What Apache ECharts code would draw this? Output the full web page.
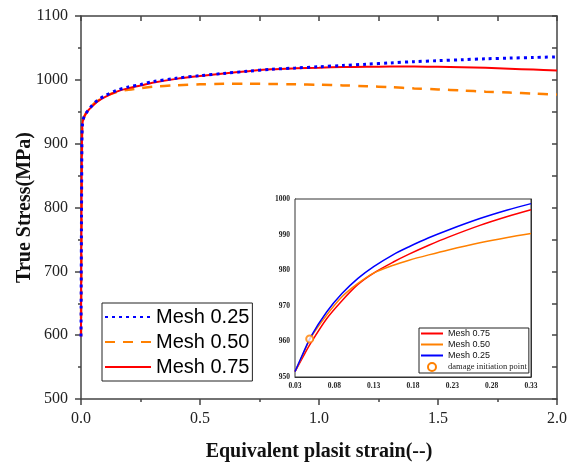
<!DOCTYPE html>
<html>
<head>
<meta charset="utf-8">
<script src="https://cdn.jsdelivr.net/npm/echarts@6/dist/echarts.min.js"></script>
<style>html,body{margin:0;padding:0;background:#fff;}#c{width:568px;height:466px;}</style>
</head>
<body>
<div id="c"></div>
<script>
// ---- main chart data ----
const strain = [0, 0.002, 0.004, 0.006, 0.01, 0.02, 0.03, 0.05, 0.07, 0.1, 0.15, 0.2, 0.25, 0.3, 0.4, 0.5, 0.6, 0.7, 0.8, 0.9, 1.0, 1.1, 1.2, 1.3, 1.4, 1.5, 1.6, 1.7, 1.8, 1.9, 2.0];
const mesh025 = [598, 780, 905, 930, 939, 947, 952, 961.3, 968, 975, 983.5, 989, 992.5, 997, 1002.5, 1006.5, 1010, 1013.5, 1016.5, 1018.5, 1020.5, 1022.5, 1024.5, 1026.5, 1028.5, 1030, 1031.5, 1033, 1034, 1035, 1036];
const mesh050 = [598, 780, 905, 930, 939, 947, 952, 961, 967, 974, 981, 984.5, 987, 989, 991.5, 993, 993.7, 993.8, 993.5, 993, 992.3, 991.3, 990, 988.5, 986.5, 985, 983.3, 981.5, 980, 978.5, 977];
const mesh075 = [598, 780, 905, 930, 939, 947, 952, 959.6, 966.3, 973, 981.5, 987, 991, 995.5, 1001.5, 1006, 1010, 1013.5, 1016.5, 1018, 1019, 1020, 1020.5, 1020.8, 1021, 1020.5, 1019.8, 1018.8, 1017.5, 1016, 1014.5];
const xTicks = [0, 0.5, 1.0, 1.5, 2.0];
const yTicks = [500, 600, 700, 800, 900, 1000, 1100];

// ---- inset data ----
const insetStrain = [0.03, 0.04, 0.05, 0.07, 0.09, 0.11, 0.13, 0.155, 0.175, 0.20, 0.225, 0.265, 0.30, 0.33];
const inset025 = [951.5, 956.5, 961.3, 968.2, 973.5, 977.7, 981.0, 984.4, 986.6, 989.1, 991.3, 994.5, 996.9, 998.7];
const inset075 = [951.5, 955.6, 959.5, 966.3, 971.5, 976.0, 979.2, 982.3, 984.5, 987.0, 989.3, 992.6, 995.1, 997.0];
const inset050 = [951.5, 956.3, 961.0, 967.3, 972.6, 976.3, 979.2, 981.4, 982.8, 984.3, 985.7, 987.7, 989.2, 990.3];
const damagePoint = [0.0487, 960.7];
const insetXTicks = [0.03, 0.08, 0.13, 0.18, 0.23, 0.28, 0.33];
const insetXMinor = [0.03, 0.055, 0.08, 0.105, 0.13, 0.155, 0.18, 0.205, 0.23, 0.255, 0.28, 0.305, 0.33];

const RED = '#ff0000', ORANGE = '#ff8000', BLUE = '#0000ff';
const zip = (xs, ys) => xs.map((x, i) => [x, ys[i]]);
const SERIF = '"Liberation Serif", "Times New Roman", serif';
const SANS = '"Liberation Sans", Arial, sans-serif';
const AX = { lineStyle: { color: '#444', width: 1.5 } };

const chart = echarts.init(document.getElementById('c'), null, { renderer: 'canvas' });
chart.setOption({
  animation: false,
  backgroundColor: '#fff',
  grid: [
    { left: 81, top: 16, width: 476, height: 383, containLabel: false, outerBoundsMode: 'none' },
    { left: 295, top: 199, width: 236, height: 178, containLabel: false, outerBoundsMode: 'none',
      show: true, backgroundColor: '#fff', borderColor: '#333', borderWidth: 1, z: 5 }
  ],
  xAxis: [
    { type: 'value', gridIndex: 0, position: 'bottom', min: 0, max: 2, interval: 0.5,
      axisLine: { onZero: false, ...AX }, splitLine: { show: false },
      axisTick: { inside: false, length: 6, lineStyle: { color: '#444', width: 1.5 } },
      minorTick: { show: true, splitNumber: 2, length: 3, lineStyle: { color: '#444', width: 1.5 } },
      axisLabel: { fontFamily: SERIF, fontSize: 16, color: '#222', margin: 12, formatter: v => v.toFixed(1) },
      name: 'Equivalent plasit strain(--)', nameLocation: 'middle', nameGap: 43, nameMoveOverlap: false,
      nameTextStyle: { fontFamily: SERIF, fontSize: 20, fontWeight: 'bold', color: '#111' } },
    { type: 'value', gridIndex: 0, position: 'top', min: 0, max: 2, interval: 0.25,
      axisLine: { onZero: false, ...AX }, splitLine: { show: false },
      axisTick: { inside: true, length: 5, lineStyle: { color: '#444', width: 1.5 } },
      axisLabel: { show: false } },
    { type: 'value', gridIndex: 1, position: 'bottom', min: 0.03, max: 0.33,
      axisLine: { onZero: false, lineStyle: { color: '#333', width: 1 } }, splitLine: { show: false },
      axisTick: { inside: true, length: 3, customValues: insetXMinor, lineStyle: { color: '#333' } },
      axisLabel: { customValues: insetXTicks, fontFamily: SERIF, fontSize: 7.5, fontWeight: 'bold', color: '#222', margin: 5,
                   formatter: v => v.toFixed(2) } }
  ],
  yAxis: [
    { type: 'value', gridIndex: 0, position: 'left', min: 500, max: 1100, interval: 100,
      axisLine: { show: true, onZero: false, ...AX }, splitLine: { show: false },
      axisTick: { show: true, inside: false, length: 6, lineStyle: { color: '#444', width: 1.5 } },
      minorTick: { show: true, splitNumber: 2, length: 3, lineStyle: { color: '#444', width: 1.5 } },
      axisLabel: { fontFamily: SERIF, fontSize: 16, color: '#222', margin: 13, formatter: v => String(v) },
      name: 'True Stress(MPa)', nameLocation: 'middle', nameGap: 46, nameMoveOverlap: false,
      nameTextStyle: { fontFamily: SERIF, fontSize: 20, fontWeight: 'bold', color: '#111' } },
    { type: 'value', gridIndex: 0, position: 'right', min: 500, max: 1100, interval: 50,
      axisLine: { show: true, onZero: false, ...AX }, splitLine: { show: false },
      axisTick: { show: true, inside: true, length: 5, lineStyle: { color: '#444', width: 1.5 } },
      axisLabel: { show: false } },
    { type: 'value', gridIndex: 1, position: 'left', min: 950, max: 1000, interval: 10,
      axisLine: { show: true, onZero: false, lineStyle: { color: '#333', width: 1 } }, splitLine: { show: false },
      axisTick: { show: true, inside: true, length: 3, lineStyle: { color: '#333' } },
      minorTick: { show: true, splitNumber: 2, length: 3, lineStyle: { color: '#333' } },
      axisLabel: { fontFamily: SERIF, fontSize: 7.5, fontWeight: 'bold', color: '#222', margin: 5, formatter: v => String(v) } },
    { type: 'value', gridIndex: 1, position: 'right', min: 950, max: 1000, interval: 5,
      axisLine: { show: true, onZero: false, lineStyle: { color: '#333', width: 1 } }, splitLine: { show: false },
      axisTick: { show: true, inside: true, length: 3, lineStyle: { color: '#333' } },
      axisLabel: { show: false } }
  ],
  legend: [
    { orient: 'vertical', left: 102, top: 303, padding: [4, 3, 4, 2], itemGap: 5,
      itemWidth: 46, itemHeight: 14, backgroundColor: '#fff', borderColor: '#222', borderWidth: 1, borderRadius: 0,
      itemStyle: { opacity: 0 },
      textStyle: { fontFamily: SANS, fontSize: 20, lineHeight: 20, color: '#000' },
      data: ['Mesh 0.25', 'Mesh 0.50', 'Mesh 0.75'] },
    { orient: 'vertical', left: 419, top: 328, padding: [1, 2, 1, 1], itemGap: 2,
      itemWidth: 22, itemHeight: 8, backgroundColor: '#fff', borderColor: '#222', borderWidth: 1, borderRadius: 0, z: 10,
      itemStyle: { opacity: 0 },
      textStyle: { fontFamily: SANS, fontSize: 9, lineHeight: 9, color: '#111' },
      formatter: n => n.replace(' inset', ''),
      data: ['Mesh 0.75 inset', 'Mesh 0.50 inset', 'Mesh 0.25 inset',
             { name: 'damage initiation point', itemStyle: { opacity: 1 },
               textStyle: { fontFamily: SERIF, fontSize: 8.5, fontWeight: 'normal', color: '#222' } }] }
  ],
  series: [
    { name: 'Mesh 0.50', type: 'line', xAxisIndex: 0, yAxisIndex: 0, data: zip(strain, mesh050), symbol: 'none', smooth: 0.3,
      lineStyle: { color: ORANGE, width: 2.5, type: [10, 8] }, itemStyle: { color: ORANGE } },
    { name: 'Mesh 0.75', type: 'line', xAxisIndex: 0, yAxisIndex: 0, data: zip(strain, mesh075), symbol: 'none', smooth: 0.3,
      lineStyle: { color: RED, width: 2, type: 'solid' }, itemStyle: { color: RED } },
    { name: 'Mesh 0.25', type: 'line', xAxisIndex: 0, yAxisIndex: 0, data: zip(strain, mesh025), symbol: 'none', smooth: 0.3,
      lineStyle: { color: BLUE, width: 3, type: [3, 4] }, itemStyle: { color: BLUE } },

    { name: 'Mesh 0.75 inset', type: 'line', xAxisIndex: 2, yAxisIndex: 2, data: zip(insetStrain, inset075), symbol: 'none',
      smooth: 0.3, z: 6, lineStyle: { color: RED, width: 1.5 }, itemStyle: { color: RED } },
    { name: 'Mesh 0.50 inset', type: 'line', xAxisIndex: 2, yAxisIndex: 2, data: zip(insetStrain, inset050), symbol: 'none',
      smooth: 0.3, z: 6, lineStyle: { color: ORANGE, width: 1.5 }, itemStyle: { color: ORANGE } },
    { name: 'Mesh 0.25 inset', type: 'line', xAxisIndex: 2, yAxisIndex: 2, data: zip(insetStrain, inset025), symbol: 'none',
      smooth: 0.3, z: 6, lineStyle: { color: BLUE, width: 1.5 }, itemStyle: { color: BLUE } },
    { name: 'damage initiation point', type: 'scatter', xAxisIndex: 2, yAxisIndex: 2, data: [damagePoint], z: 7,
      symbol: 'emptyCircle', symbolSize: 7, symbolKeepAspect: true,
      itemStyle: { color: ORANGE, borderColor: ORANGE, borderWidth: 1.5 } }
  ]
});
</script>
</body>
</html>
